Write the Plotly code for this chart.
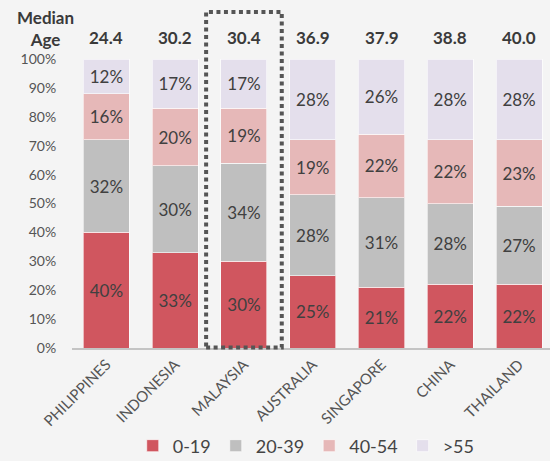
import plotly.graph_objects as go

countries = ["PHILIPPINES", "INDONESIA", "MALAYSIA", "AUSTRALIA", "SINGAPORE", "CHINA", "THAILAND"]
median_age = ["24.4", "30.2", "30.4", "36.9", "37.9", "38.8", "40.0"]
age_0_19 = [40, 33, 30, 25, 21, 22, 22]
age_20_39 = [32, 30, 34, 28, 31, 28, 27]
age_40_54 = [16, 20, 19, 19, 22, 22, 23]
age_55_plus = [12, 17, 17, 28, 26, 28, 28]
y_ticks = [0, 10, 20, 30, 40, 50, 60, 70, 80, 90, 100]

groups = [
    ("0-19", age_0_19, "#d0565f"),
    ("20-39", age_20_39, "#bfbfbf"),
    ("40-54", age_40_54, "#e6b8b8"),
    (">55", age_55_plus, "#e4dfec"),
]

FONT = "Lato"
fig = go.Figure()
for name, vals, color in groups:
    fig.add_trace(go.Bar(
        x=countries, y=vals, name=name,
        marker=dict(color=color, line=dict(color="rgba(255,255,255,0.6)", width=1)),
        text=[f"{v}%" for v in vals],
        textposition="inside", insidetextanchor="middle",
        textfont=dict(family=FONT, size=17, color="#404040"),
        constraintext="none",
    ))

# Median age header row
fig.add_annotation(text="<b>Median<br>Age</b>", xref="paper", yref="paper",
                   x=-0.056, xanchor="center", y=1.104, yanchor="middle",
                   showarrow=False, align="center",
                   font=dict(family=FONT, size=17, color="#3a3a3a"))
for c, a in zip(countries, median_age):
    fig.add_annotation(text=f"<b>{a}</b>", xref="x", yref="paper", x=c, y=1.073,
                       yanchor="middle", showarrow=False,
                       font=dict(family=FONT, size=17, color="#3a3a3a"))

# Dotted highlight around Malaysia
mi = countries.index("MALAYSIA")
fig.add_shape(type="rect", xref="x", yref="paper", x0=mi - 0.55, x1=mi + 0.55, y0=0.002, y1=1.163,
              line=dict(color="#555555", width=4, dash="4px,3.5px"), layer="above")

fig.update_layout(
    barmode="stack", bargap=0.33,
    width=550, height=461,
    margin=dict(l=72, r=0, t=59, b=113, autoexpand=False),
    paper_bgcolor="#f4f4f4", plot_bgcolor="#f4f4f4",
    font=dict(family=FONT, color="#555555"),
    showlegend=True,
    legend=dict(orientation="h", x=0.49, xanchor="center", y=-0.339, yanchor="middle",
                font=dict(family=FONT, size=18, color="#444444"), traceorder="normal",
                itemwidth=30, bgcolor="rgba(0,0,0,0)"),
    xaxis=dict(range=[-0.5, 6.45], tickangle=-45, showline=True, linecolor="#c4c4c4",
               linewidth=2, tickfont=dict(family=FONT, size=15, color="#555555"),
               showgrid=False, ticks="", automargin=False),
    yaxis=dict(range=[0, 100], tickvals=y_ticks, ticktext=[f"{t}%" for t in y_ticks],
               showgrid=False, zeroline=False, ticks="outside", ticklen=12,
               tickcolor="rgba(0,0,0,0)", automargin=False,
               tickfont=dict(family=FONT, size=14, color="#555555")),
)

fig.write_html("out.html")
